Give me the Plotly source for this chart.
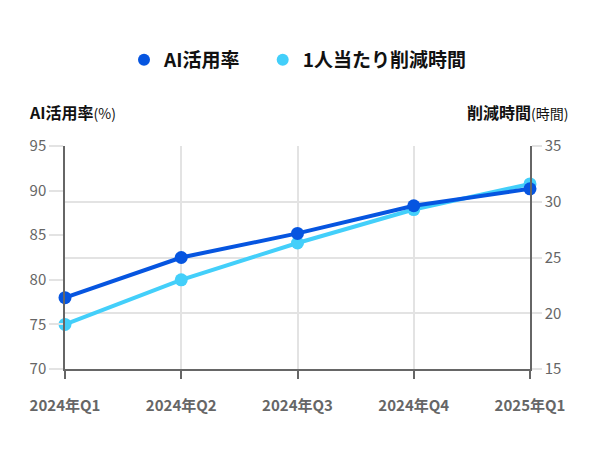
import plotly.graph_objects as go

categories = ["2024年Q1", "2024年Q2", "2024年Q3", "2024年Q4", "2025年Q1"]
ai_rate = [78.0, 82.5, 85.2, 88.3, 90.2]
hours_saved = [19.0, 23.0, 26.3, 29.3, 31.6]

DARK = "#0655E0"
LIGHT = "#43CFFA"
FONT = "Noto Sans CJK JP"

fig = go.Figure()
# hours on base axis (right side), AI rate on overlaying axis so it draws on top
fig.add_trace(go.Scatter(
    x=categories, y=hours_saved, name="1人当たり削減時間", yaxis="y",
    mode="lines+markers", line=dict(color=LIGHT, width=4),
    marker=dict(color=LIGHT, size=13), cliponaxis=False, showlegend=False,
))
fig.add_trace(go.Scatter(
    x=categories, y=ai_rate, name="AI活用率", yaxis="y2",
    mode="lines+markers", line=dict(color=DARK, width=4),
    marker=dict(color=DARK, size=13), cliponaxis=False, showlegend=False,
))
# legend entries (circle markers only)
fig.add_trace(go.Scatter(
    x=[None], y=[None], name="AI活用率&nbsp;&nbsp;&nbsp;&nbsp;", yaxis="y2", mode="markers",
    marker=dict(color=DARK, size=14), legendrank=1,
))
fig.add_trace(go.Scatter(
    x=[None], y=[None], name="1人当たり削減時間", yaxis="y", mode="markers",
    marker=dict(color=LIGHT, size=14), legendrank=2,
))

fig.update_layout(
    width=600, height=450,
    margin=dict(l=65, r=70, t=146, b=81),
    paper_bgcolor="white", plot_bgcolor="white",
    font=dict(family=FONT, color="#666666", size=14),
    showlegend=True,
    legend=dict(orientation="h", x=0.5, xanchor="center", y=1 - 60 / 450, yanchor="middle",
                yref="container", font=dict(size=19, color="#111111", weight="bold"),
                itemsizing="constant", itemwidth=30, traceorder="normal"),
    xaxis=dict(
        type="category", range=[0, 4], showgrid=True, gridcolor="#e3e3e3", gridwidth=1.5,
        showline=True, linecolor="#666666", linewidth=1.5,
        ticks="outside", ticklen=8, tickcolor="#666666", tickwidth=1.5,
        ticklabelstandoff=14,
        tickfont=dict(size=15, color="#666666", weight="bold"), zeroline=False,
    ),
    yaxis=dict(
        range=[15, 35], dtick=5, side="right", showgrid=True, gridcolor="#e3e3e3", gridwidth=1.5,
        showline=True, linecolor="#666666", linewidth=1.5,
        ticks="outside", ticklen=10, tickcolor="#e3e3e3", tickwidth=1.5,
        tickfont=dict(size=15, color="#666666"), zeroline=False,
    ),
    yaxis2=dict(
        range=[70, 95], dtick=5, overlaying="y", side="left", showgrid=False,
        showline=True, linecolor="#666666", linewidth=1.5,
        ticks="outside", ticklen=14, tickcolor="#e3e3e3", tickwidth=1.5,
        tickfont=dict(size=15, color="#666666"), zeroline=False,
    ),
)

fig.add_annotation(
    x=0, xref="paper", xanchor="left", xshift=-38, y=1 + (146 - 112) / 223, yref="paper",
    yanchor="middle",
    text="<b>AI活用率</b><span style='font-size:14px'>(%)</span>",
    showarrow=False, font=dict(size=16, color="#111111"),
)
fig.add_annotation(
    x=1, xref="paper", xanchor="right", xshift=40, y=1 + (146 - 112) / 223, yref="paper",
    yanchor="middle",
    text="<b>削減時間</b><span style='font-size:14px'>(時間)</span>",
    showarrow=False, font=dict(size=16, color="#111111"),
)

fig.write_html("out.html")
